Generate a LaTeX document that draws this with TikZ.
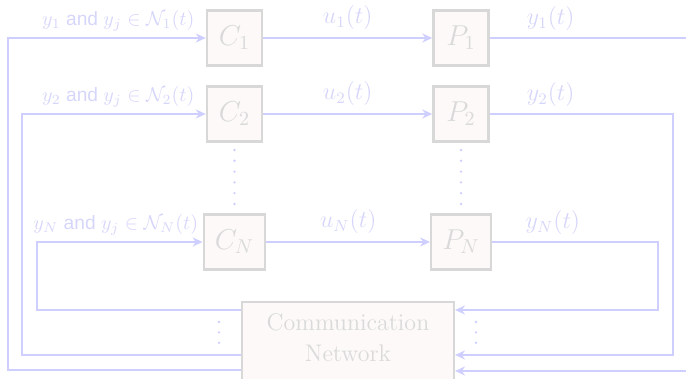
\documentclass[tikz,border=0pt]{standalone}
\usepackage{fontspec}
\newfontfamily\labfont{Liberation Sans}
\usetikzlibrary{positioning,arrows.meta}

\definecolor{linkblue}{RGB}{206,206,255}
\definecolor{lablue}{RGB}{214,214,250}
\definecolor{boxgray}{RGB}{216,216,216}
\definecolor{boxfill}{RGB}{252,249,248}
\definecolor{boxtext}{RGB}{218,218,218}

\begin{document}
\begin{tikzpicture}[x=1pt, y=1pt, node distance=9.3pt and 84.55pt,
      block/.style = {draw=boxgray, line width=1.2pt, fill=boxfill,
        text=boxtext, font=\Large, minimum size=27.5pt, inner sep=5.5pt},
      link/.style = {draw=linkblue, line width=1pt},
      arr/.style = {link, -{Stealth[length=5pt,width=4.5pt]}},
      sig/.style = {text=lablue, font=\large, yshift=0.2pt},
      nbr/.style = {text=lablue, font=\labfont\fontsize{9.6}{11}\selectfont,
        anchor=south east, yshift=-0.3pt},
      vdotline/.style = {draw=linkblue, line width=1.3pt, line cap=round,
        dash pattern=on 0pt off 5.4pt}]
  \useasboundingbox (0,0) rectangle (343,-189.5);

  % controllers and plants
  \node[block] (C1) at (117.25,-19) {$C_1$};
  \node[block, right=of C1] (P1) {$P_1$};
  \node[block, below=of C1] (C2) {$C_2$};
  \node[block, below=of P1] (P2) {$P_2$};
  \node[block, below=35.3pt of C2] (CN) {$C_N$};
  \node[block, below=35.3pt of P2] (PN) {$P_N$};

  \node[block, font=\fontsize{12}{15.5}\selectfont, align=center,
    anchor=north, minimum width=105.8pt, text depth=14pt]
    (net) at (174,-150.5) {Communication\\Network};

  % control signals
  \draw[arr] (C1) -- node[sig, above] (u1) {$u_1(t)$} (P1);
  \draw[arr] (C2) -- node[sig, above] (u2) {$u_2(t)$} (P2);
  \draw[arr] (CN) -- node[sig, above] (uN) {$u_N(t)$} (PN);

  % outputs into the network
  \coordinate (ro) at (346,-185.5);
  \coordinate (rm) at (336.5,-177.5);
  \coordinate (ri) at (329,-155);
  \draw[arr] (P1.east) -| (ro) -- (net.east |- ro);
  \draw[arr] (P2.east) -| (rm) -- (net.east |- rm);
  \draw[arr] (PN.east) -| (ri) -- (net.east |- ri);
  \node[sig, above] (y1) at ([xshift=30.5pt]P1.east) {$y_1(t)$};
  \node[sig, above] (y2) at ([xshift=30.5pt]P2.east) {$y_2(t)$};
  \node[sig, above] (yN) at ([xshift=30.5pt]PN.east) {$y_N(t)$};

  % network back to the controllers
  \coordinate (lo) at (4,-185);
  \coordinate (lm) at (11,-177.5);
  \coordinate (li) at (18.5,-155);
  \draw[arr] (net.west |- lo) -- (lo) |- (C1.west);
  \draw[arr] (net.west |- lm) -- (lm) |- (C2.west);
  \draw[arr] (net.west |- li) -- (li) |- (CN.west);
  \node[nbr] (n1) at ([xshift=-2.2pt]C1.west) {$y_1$ and $y_j \in \mathcal{N}_1(t)$};
  \node[nbr] (n2) at ([xshift=-2.2pt]C2.west) {$y_2$ and $y_j \in \mathcal{N}_2(t)$};
  \node[nbr] (nN) at ([xshift=1.3pt]CN.west) {$y_N$ and $y_j \in \mathcal{N}_N(t)$};

  % dots
  \draw[vdotline] ([yshift=-3.65pt]C2.south) -- ([yshift=4.4pt]CN.north);
  \draw[vdotline] ([yshift=-3.65pt]P2.south) -- ([yshift=4.4pt]PN.north);
  \draw[vdotline, dash pattern=on 0pt off 5.2pt]
    ([xshift=-11pt,yshift=-10.5pt]net.north west) -- ([xshift=-11pt,yshift=-21pt]net.north west);
  \draw[vdotline, dash pattern=on 0pt off 5.2pt]
    ([xshift=10.5pt,yshift=-10.5pt]net.north east) -- ([xshift=10.5pt,yshift=-21pt]net.north east);
\end{tikzpicture}
\end{document}
